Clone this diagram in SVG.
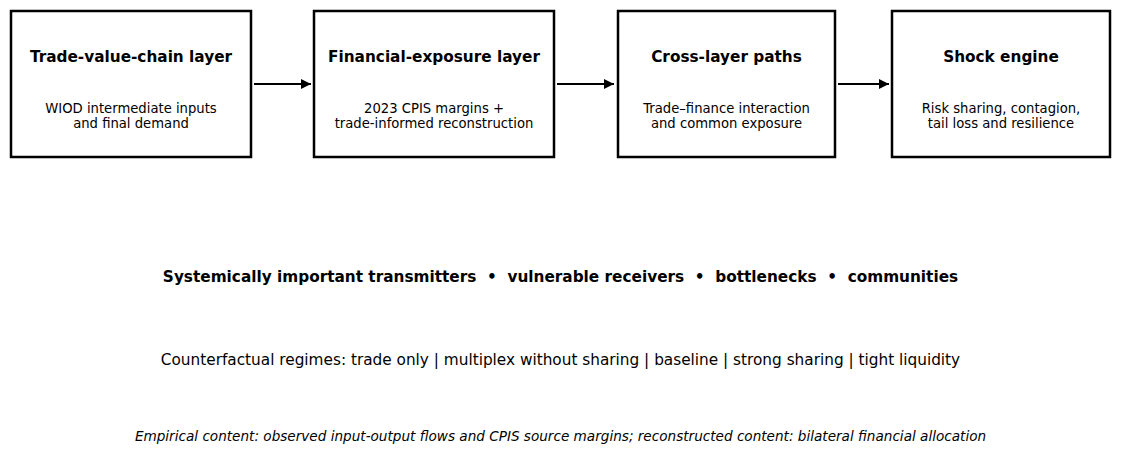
<svg xmlns="http://www.w3.org/2000/svg" width="1121" height="453" viewBox="0 0 1121 453">
<style>
.box{fill:#fff;stroke:#000;stroke-width:2.5}
.t{font-family:"DejaVu Sans",sans-serif;font-size:15.3px;font-weight:bold;text-anchor:middle;fill:#000}
.s{font-family:"DejaVu Sans",sans-serif;font-size:13.2px;text-anchor:middle;fill:#000}
.c{stroke:#000;stroke-width:2;fill:none;marker-end:url(#ah)}
.b{font-family:"DejaVu Sans",sans-serif;text-anchor:middle;fill:#000}
</style>
<defs>
<marker id="ah" viewBox="0 0 10 10" refX="10" refY="5" markerWidth="5" markerHeight="5" orient="auto" markerUnits="strokeWidth">
<path d="M0,0 L10,5 L0,10 Z" fill="#000"/>
</marker>
</defs>
<rect width="1121" height="453" fill="#fff"/>
<g id="connectors">
<line class="c" x1="254" y1="84" x2="311" y2="84"/>
<line class="c" x1="557" y1="84" x2="614" y2="84"/>
<line class="c" x1="838" y1="84" x2="889" y2="84"/>
</g>
<g id="node-trade">
<rect class="box" x="11" y="11" width="240" height="146"/>
<text class="t" x="131" y="62">Trade-value-chain layer</text>
<text class="s" x="131" y="113">WIOD intermediate inputs</text>
<text class="s" x="131" y="128">and final demand</text>
</g>
<g id="node-financial">
<rect class="box" x="314" y="11" width="240" height="146"/>
<text class="t" x="434" y="62">Financial-exposure layer</text>
<text class="s" x="434" y="113">2023 CPIS margins +</text>
<text class="s" x="434" y="128">trade-informed reconstruction</text>
</g>
<g id="node-cross">
<rect class="box" x="618" y="11" width="217" height="146"/>
<text class="t" x="726.5" y="62">Cross-layer paths</text>
<text class="s" x="726.5" y="113">Trade–finance interaction</text>
<text class="s" x="726.5" y="128">and common exposure</text>
</g>
<g id="node-shock">
<rect class="box" x="892" y="11" width="218" height="146"/>
<text class="t" x="1001" y="62">Shock engine</text>
<text class="s" x="1001" y="113">Risk sharing, contagion,</text>
<text class="s" x="1001" y="128">tail loss and resilience</text>
</g>
<text class="b" x="560.5" y="282" font-size="15.3" font-weight="bold" xml:space="preserve">Systemically important transmitters  •  vulnerable receivers  •  bottlenecks  •  communities</text>
<text class="b" x="560.5" y="365" font-size="15.3">Counterfactual regimes: trade only | multiplex without sharing | baseline | strong sharing | tight liquidity</text>
<text class="b" x="560.5" y="441" font-size="13.6" font-style="italic">Empirical content: observed input-output flows and CPIS source margins; reconstructed content: bilateral financial allocation</text>
</svg>
